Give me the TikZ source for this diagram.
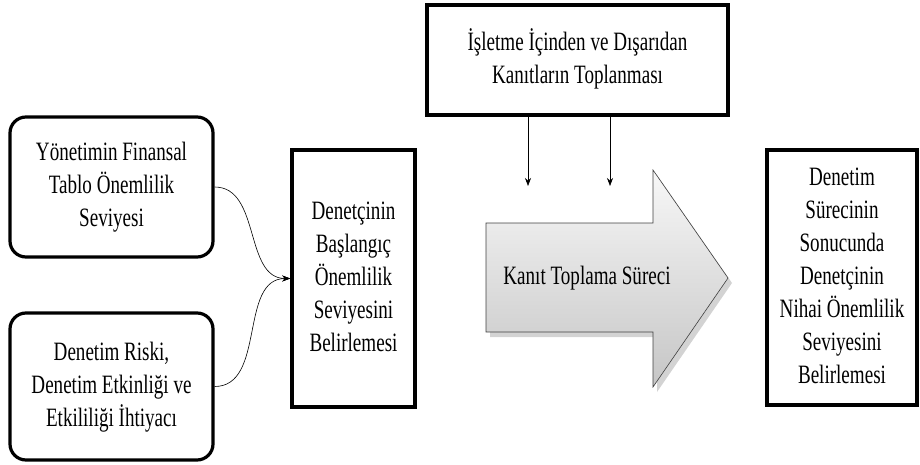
\documentclass[tikz,border=0pt]{standalone}
\usepackage{fontspec}
\setmainfont{Liberation Serif}
\usetikzlibrary{arrows.meta,shadows}

% narrow serif text block, centred lines
\newcommand{\lbl}[1]{\scalebox{0.72}[1]{\begin{tabular}{@{}c@{}}#1\end{tabular}}}

\begin{document}
\begin{tikzpicture}[x=1pt,y=-1pt,
    every node/.style={font=\fontsize{26.5}{33}\selectfont, inner sep=0pt},
    roundbox/.style={draw, line width=3.2pt, rounded corners=16pt},
    sqbox/.style={draw, line width=3.6pt},
    link/.style={line width=0.6pt, -{Stealth[length=8pt,width=6pt]}},
  ]
  \useasboundingbox (0,0) rectangle (920,465);

  % input boxes
  \node[roundbox, minimum width=203pt, minimum height=140pt] (A) at (111.5,187)
    {\lbl{Yönetimin Finansal\\Tablo Önemlilik\\Seviyesi}};
  \node[roundbox, minimum width=203pt, minimum height=147pt] (B) at (111.5,386.5)
    {\lbl{Denetim Riski,\\Denetim Etkinliği ve\\Etkililiği İhtiyacı}};

  % initial materiality
  \node[sqbox, minimum width=123pt, minimum height=257pt] (C) at (353.5,278.5)
    {\lbl{Denetçinin\\Başlangıç\\Önemlilik\\Seviyesini\\Belirlemesi}};

  % evidence source
  \node[sqbox, minimum width=301pt, minimum height=110pt] (D) at (577.5,60)
    {\lbl{İşletme İçinden ve Dışarıdan\\Kanıtların Toplanması}};

  % final materiality
  \node[sqbox, minimum width=150pt, minimum height=255pt] (E) at (842,277.5)
    {\lbl{Denetim\\Sürecinin\\Sonucunda\\Denetçinin\\Nihai Önemlilik\\Seviyesini\\Belirlemesi}};

  % process arrow
  \path[draw=black!75, line width=0.6pt, top color=gray!6, bottom color=gray!45,
        drop shadow={shadow xshift=4pt, shadow yshift=-5pt, opacity=0.35}]
    (486,223) -- (653,223) -- (653,170) -- (728,278) -- (653,387)
    -- (653,332) -- (486,332) -- cycle;
  \node (K) at (587,278) {\lbl{Kanıt Toplama Süreci}};

  % connectors
  \draw[link] (A.east) to[out=0,in=180] (C.west);
  \draw[link] (B.east) to[out=0,in=180] (C.west);

  \coordinate (d1) at (528,186);
  \coordinate (d2) at (610,186);
  \draw[link] (d1 |- D.south) -- (d1);
  \draw[link] (d2 |- D.south) -- (d2);
\end{tikzpicture}
\end{document}
